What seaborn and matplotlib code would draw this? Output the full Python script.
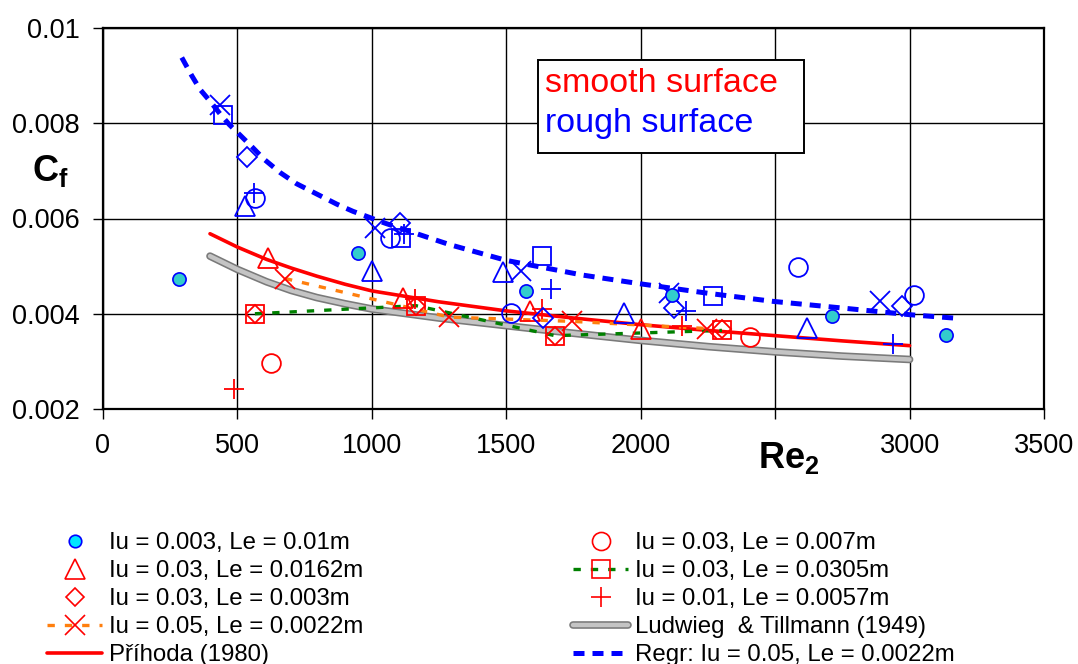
import matplotlib
matplotlib.use("Agg")
import matplotlib.pyplot as plt
import matplotlib.patheffects as pe
from matplotlib.lines import Line2D
from matplotlib.patches import Rectangle
import seaborn as sns

# ---------------- data ----------------
xticks = [0, 500, 1000, 1500, 2000, 2500, 3000, 3500]
xtick_labels = ["0", "500", "1000", "1500", "2000", "", "3000", "3500"]
yticks = [0.002, 0.004, 0.006, 0.008, 0.01]
ytick_labels = ["0.002", "0.004", "0.006", "0.008", "0.01"]

# Iu = 0.003, Le = 0.01m (filled cyan circles)
cyan_x = [283, 947, 1572, 2115, 2710, 3135]
cyan_y = [0.00474, 0.00528, 0.00448, 0.00439, 0.00396, 0.00356]

# smooth surface (red markers)
tri_s_x = [614, 1116, 1588, 2001]
tri_s_y = [0.00517, 0.00434, 0.00406, 0.00367]
dia_s_x = [565, 1164, 1681, 2302]
dia_s_y = [0.00400, 0.00417, 0.00354, 0.00367]
sq_s_x = [565, 1164, 1681, 2302]
sq_s_y = [0.00400, 0.00417, 0.00354, 0.00365]
x_s_x = [677, 1288, 1745, 2246]
x_s_y = [0.00474, 0.00393, 0.00384, 0.00369]
circ_s_x = [625, 2406]
circ_s_y = [0.00296, 0.00351]
plus_s_x = [487, 1160, 1633, 2153]
plus_s_y = [0.00242, 0.00430, 0.00410, 0.00374]

# rough surface (blue markers)
x_r_x = [435, 1012, 1553, 2105, 2890]
x_r_y = [0.00838, 0.00580, 0.00490, 0.00444, 0.00426]
sq_r_x = [446, 1107, 1633, 2269]
sq_r_y = [0.00817, 0.00559, 0.00521, 0.00438]
dia_r_x = [534, 1105, 1637, 2124, 2970]
dia_r_y = [0.00729, 0.00590, 0.00392, 0.00413, 0.00417]
tri_r_x = [528, 999, 1486, 1938, 2617]
tri_r_y = [0.00627, 0.00490, 0.00488, 0.00402, 0.00371]
circ_r_x = [565, 1067, 1517, 2585, 3016]
circ_r_y = [0.00642, 0.00559, 0.00401, 0.00498, 0.00440]
plus_r_x = [562, 1119, 1665, 2168, 2937]
plus_r_y = [0.00653, 0.00567, 0.00451, 0.00405, 0.00337]

# correlation curves
prih_x = [398, 500, 609, 700, 795, 900, 1000, 1250, 1500, 1750, 2000, 2250,
          2500, 2750, 3000]
prih_y = [0.00568, 0.00540, 0.00514, 0.00496, 0.00479, 0.00462, 0.00448,
          0.00425, 0.00406, 0.00391, 0.00377, 0.00365, 0.00354, 0.00343,
          0.00333]
lt_x = [398, 500, 609, 700, 795, 900, 1000, 1250, 1500, 1750, 2000, 2250,
        2500, 2750, 3000]
lt_y = [0.00521, 0.00493, 0.00467, 0.00449, 0.00434, 0.00421, 0.00410,
        0.00391, 0.00375, 0.00359, 0.00344, 0.00331, 0.00320, 0.00311,
        0.00304]
regr_x = [293, 330, 361, 400, 435, 470, 510, 555, 600, 660, 720, 800, 870,
          930, 1050, 1290, 1500, 1786, 1997, 2250, 2492, 2750, 3001, 3187]
regr_y = [0.00938, 0.00900, 0.00871, 0.00845, 0.00820, 0.00797, 0.00775,
          0.00750, 0.00724, 0.00696, 0.00673, 0.00650, 0.00630, 0.00615,
          0.00590, 0.00545, 0.00512, 0.00481, 0.00463, 0.00443, 0.00426,
          0.00412, 0.00398, 0.00390]

labels_left = ["Iu = 0.003, Le = 0.01m", "Iu = 0.03, Le = 0.0162m",
               "Iu = 0.03, Le = 0.003m", "Iu = 0.05, Le = 0.0022m",
               "Příhoda (1980)"]
labels_right = ["Iu = 0.03, Le = 0.007m", "Iu = 0.03, Le = 0.0305m",
                "Iu = 0.01, Le = 0.0057m", "Ludwieg  & Tillmann (1949)",
                "Regr: Iu = 0.05, Le = 0.0022m"]

# ---------------- style ----------------
sns.set_theme(style="white")
plt.rcParams["font.family"] = ["Liberation Sans", "DejaVu Sans"]
plt.rcParams["text.color"] = "black"
plt.rcParams["mathtext.fontset"] = "custom"
plt.rcParams["mathtext.rm"] = "Liberation Sans"
plt.rcParams["mathtext.bf"] = "Liberation Sans:bold"
plt.rcParams["mathtext.it"] = "Liberation Sans:italic"

RED = "#FF0000"
BLUE = "#0000FF"
CYAN = "#33CCCC"
ORANGE = "#FF7F0E"
GREEN = "#008000"

W, H = 1078, 664
fig = plt.figure(figsize=(W / 100, H / 100), dpi=100)
ax = fig.add_axes([103 / W, 1 - 409 / H, (1044 - 103) / W, (409 - 28) / H])


def fx(px):
    return px / W


def fy(py):
    return 1 - py / H


lt_effects = [pe.Stroke(linewidth=5.5, foreground="#7a7a7a"), pe.Normal()]

# curves
sns.lineplot(x=lt_x, y=lt_y, ax=ax, color="#c4c4c4", lw=3.2, sort=False,
             estimator=None, path_effects=lt_effects, zorder=3)
sns.lineplot(x=prih_x, y=prih_y, ax=ax, color=RED, lw=2.6, sort=False,
             estimator=None, zorder=4)
sns.lineplot(x=regr_x, y=regr_y, ax=ax, color=BLUE, lw=3.6, sort=False,
             estimator=None, linestyle=(0, (2.2, 1.6)), zorder=6)


def markers(xs, ys, marker, ms, ec, fc="none", ls="none", lc=None, lw=2.2,
            mew=1.3, z=5):
    kw = dict(marker=marker, markersize=ms, markeredgecolor=ec,
              markerfacecolor=fc, markeredgewidth=mew)
    sns.lineplot(x=xs, y=ys, ax=ax, sort=False, estimator=None,
                 color=lc if lc else ec, linestyle=ls, lw=lw, zorder=z, **kw)


# smooth surface data
markers(sq_s_x, sq_s_y, "s", 13, RED, ls=(0, (2.2, 3.0)), lc=GREEN, lw=2.4)
markers(x_s_x, x_s_y, "x", 14, RED, ls=(0, (2.2, 3.0)), lc=ORANGE, lw=2.4)
markers(tri_s_x, tri_s_y, "^", 15, RED)
markers(dia_s_x, dia_s_y, "D", 9.5, RED)
markers(circ_s_x, circ_s_y, "o", 13.5, RED)
markers(plus_s_x, plus_s_y, "+", 14, RED)

# rough surface data
markers(x_r_x, x_r_y, "x", 14, BLUE)
markers(sq_r_x, sq_r_y, "s", 13, BLUE)
markers(dia_r_x, dia_r_y, "D", 10, BLUE)
markers(tri_r_x, tri_r_y, "^", 15, BLUE)
markers(circ_r_x, circ_r_y, "o", 13.5, BLUE)
markers(plus_r_x, plus_r_y, "+", 14, BLUE)
markers(cyan_x, cyan_y, "o", 9.5, BLUE, fc=CYAN, mew=1.2, z=7)

# axes
ax.set_xlim(0, 3500)
ax.set_ylim(0.002, 0.01)
ax.set_xticks(xticks)
ax.set_xticklabels(xtick_labels)
ax.set_yticks(yticks)
ax.set_yticklabels(ytick_labels)
ax.grid(True, color="black", lw=1.0)
for s in ax.spines.values():
    s.set_color("black")
    s.set_linewidth(1.6)
ax.tick_params(axis="both", direction="out", length=7, width=1.0,
               colors="black", labelsize=19.5, pad=10, bottom=True, left=True)
ax.set_xlabel("")
ax.set_ylabel("")

# axis titles
fig.text(fx(50), fy(171), r"$\mathbf{C_f}$", fontsize=26, ha="center",
         va="center", color="black")
fig.text(fx(789), fy(458), r"$\mathbf{Re_2}$", fontsize=26, ha="center",
         va="center", color="black")

# surface box
fig.add_artist(Rectangle((fx(538), fy(153)), (804 - 538) / W, (153 - 60) / H,
                         transform=fig.transFigure, facecolor="white",
                         edgecolor="black", lw=1.4, zorder=10))
fig.text(fx(545), fy(92), "smooth surface", color=RED, fontsize=24.5,
         va="baseline", ha="left", zorder=11)
fig.text(fx(545), fy(132), "rough surface", color=BLUE, fontsize=24.5,
         va="baseline", ha="left", zorder=11)

# legends
h_left = [
    Line2D([], [], ls="none", marker="o", ms=9, mfc="#00E5FF", mec=BLUE, mew=1.2),
    Line2D([], [], ls="none", marker="^", ms=14, mfc="none", mec=RED, mew=1.2),
    Line2D([], [], ls="none", marker="D", ms=9, mfc="none", mec=RED, mew=1.2),
    Line2D([], [], color=ORANGE, ls=(0, (2.2, 3.0)), lw=2.4, marker="x", ms=14,
           mec=RED, mew=1.2),
    Line2D([], [], color=RED, lw=2.6),
]
h_right = [
    Line2D([], [], ls="none", marker="o", ms=13, mfc="none", mec=RED, mew=1.2),
    Line2D([], [], color=GREEN, ls=(0, (2.2, 3.0)), lw=2.4, marker="s", ms=13,
           mfc="none", mec=RED, mew=1.2),
    Line2D([], [], ls="none", marker="+", ms=14, mec=RED, mew=1.2),
    Line2D([], [], color="#c4c4c4", lw=3.2, path_effects=lt_effects),
    Line2D([], [], color=BLUE, lw=3.6, ls=(0, (2.2, 1.6))),
]
common = dict(frameon=False, fontsize=17.3, handlelength=2.3,
              handletextpad=0.3, labelspacing=0.25, borderpad=0,
              borderaxespad=0, numpoints=1, loc="upper left",
              labelcolor="black", bbox_transform=fig.transFigure)
leg1 = fig.legend(h_left, labels_left, bbox_to_anchor=(fx(47), fy(532)), **common)
leg2 = fig.legend(h_right, labels_right, bbox_to_anchor=(fx(573), fy(532)), **common)

fig.savefig("out.png", dpi=100)
